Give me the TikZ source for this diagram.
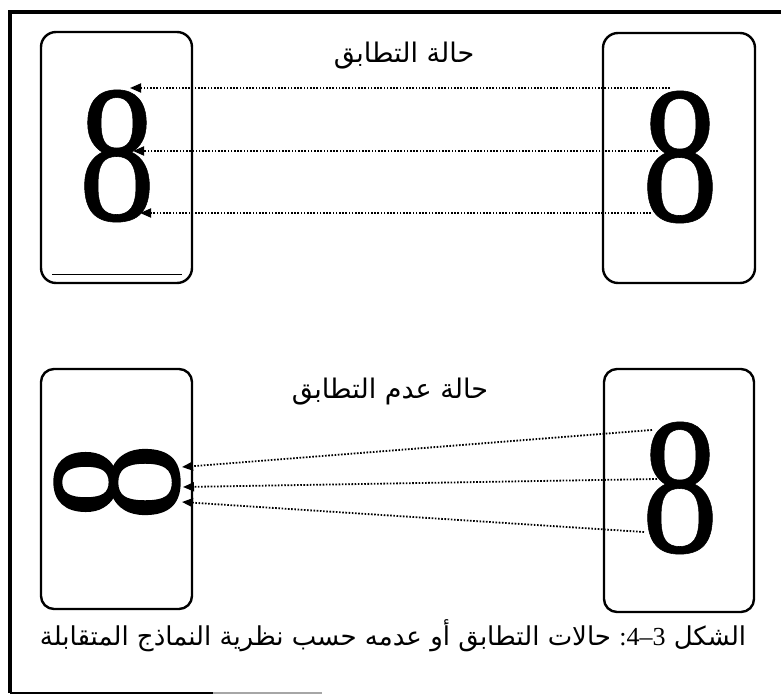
\documentclass[tikz,border=0pt]{standalone}
\usepackage{fontspec}
\setmainfont{Liberation Serif}
\newfontfamily\arabicfont[Script=Arabic]{DejaVu Sans}
\newfontfamily\eightfont[FakeBold=0.3]{Liberation Serif}
\newfontfamily\inftyfont[FakeBold=0.9]{Liberation Serif}
\TeXXeTstate=1
\usetikzlibrary{arrows.meta}

\begin{document}
\begin{tikzpicture}[x=1pt,y=-1pt,
  box/.style={draw, line width=2.4pt, rounded corners=15pt},
  digitfont/.style={inner sep=0pt, font=\eightfont\fontsize{196}{196}\selectfont},
  link/.style={line width=1.8pt, dash pattern=on 1.6pt off 1.6pt, -{Triangle[length=11pt,width=9pt]}},
  lbl/.style={inner sep=0pt, font=\arabicfont\fontsize{27}{30}\selectfont},
  captext/.style={inner sep=0pt, font=\arabicfont\fontsize{26}{30}\selectfont}]
\useasboundingbox (0,0) rectangle (781,695);

% outer frame
\draw[line width=3.2pt] (10,693) -- (10,12) -- (781,12);
\draw[line width=2.6pt] (10,693) -- (213,693);
\draw[line width=1.8pt, black!35] (213,693) -- (322,693);

% boxes
\draw[box] (41,32) rectangle (192,283);
\draw[line width=1pt] (52,274) -- (182,274);
\draw[box] (603,33) rectangle (755,283);
\draw[box, rounded corners=13pt] (41,369) rectangle (192,609);
\draw[box, rounded corners=13pt] (604,369) rectangle (754,612);

% labels
\node[lbl] (lblA) at (404,56) {\beginR حالة التطابق\endR};
\node[lbl] (lblB) at (390,392) {\beginR حالة عدم التطابق\endR};
\node[captext] (caption) at (393,636) {\beginR الشكل \beginL{\rmfamily :4–3}\endL{} حالات التطابق أو عدمه حسب نظرية النماذج المتقابلة\endR};

% digits
\node[digitfont, xscale=0.78] (eightTL) at (117,156) {8};
\node[digitfont, xscale=0.78] (eightTR) at (680,157) {8};
\node[digitfont, xscale=0.78] (eightBR) at (680,488) {8};
\node[inner sep=0pt, rotate=90, xscale=0.78, yscale=0.95, font=\inftyfont\fontsize{196}{196}\selectfont] (infty) at (117,482) {8};

% connector end points
\coordinate (a1) at (670,88);  \coordinate (b1) at (130,88);
\coordinate (a2) at (658,151); \coordinate (b2) at (133,151);
\coordinate (a3) at (651,213); \coordinate (b3) at (140,213);
\coordinate (c1) at (652,430); \coordinate (d1) at (182,467);
\coordinate (c2) at (657,479); \coordinate (d2) at (183,487);
\coordinate (c3) at (644,532); \coordinate (d3) at (182,502);

\draw[link] (a1) -- (b1);
\draw[link] (a2) -- (b2);
\draw[link] (a3) -- (b3);
\draw[link] (c1) -- (d1);
\draw[link] (c2) -- (d2);
\draw[link] (c3) -- (d3);
\end{tikzpicture}
\end{document}
